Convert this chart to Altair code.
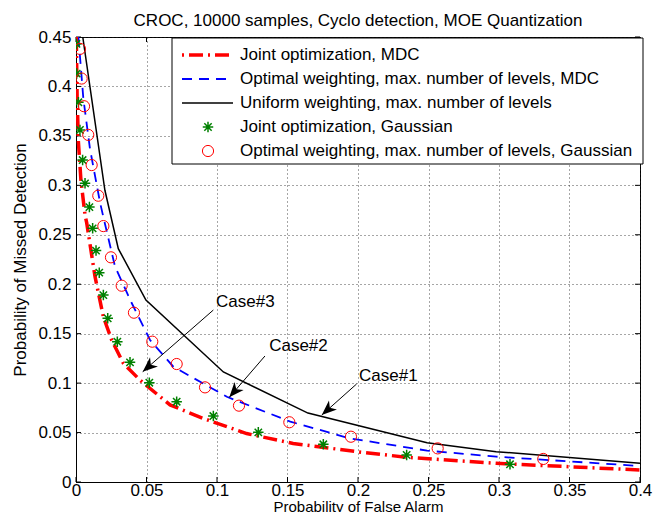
import math
import altair as alt
import pandas as pd

# ---------------- data ----------------
joint_mdc_fa  = [0.0002, 0.0008, 0.0017, 0.0035, 0.0064, 0.0076, 0.0135, 0.0194, 0.0253, 0.0336,
                 0.0454, 0.0667, 0.090, 0.121, 0.154, 0.199, 0.2345, 0.298, 0.4]
joint_mdc_pmd = [0.45, 0.39, 0.344, 0.305, 0.27, 0.262, 0.2076, 0.167, 0.1436, 0.12,
                 0.103, 0.078, 0.0644, 0.049, 0.039, 0.0307, 0.025, 0.0189, 0.0121]

opt_mdc_fa  = [0.0017, 0.0052, 0.0099, 0.017, 0.0194, 0.0277, 0.0395, 0.0525, 0.069, 0.107,
               0.152, 0.194, 0.249, 0.298, 0.4]
opt_mdc_pmd = [0.45, 0.388, 0.337, 0.283, 0.268, 0.2177, 0.181, 0.1436, 0.1166, 0.0862,
               0.061, 0.0442, 0.0317, 0.0256, 0.0162]

unif_fa  = [0.0048, 0.0205, 0.030, 0.0496, 0.1045, 0.1645, 0.249, 0.298, 0.4]
unif_pmd = [0.45, 0.295, 0.236, 0.184, 0.1113, 0.0697, 0.0397, 0.0307, 0.0189]

joint_gauss_fa  = [0.0003, 0.0005, 0.0017, 0.0028, 0.0047, 0.0064, 0.0095, 0.0118, 0.0142, 0.0165,
                   0.0194, 0.0225, 0.0293, 0.0383, 0.052, 0.0714, 0.0974, 0.1293, 0.1754, 0.2345, 0.3078]
joint_gauss_pmd = [0.443, 0.413, 0.384, 0.356, 0.3256, 0.302, 0.278, 0.2565, 0.234, 0.2117,
                   0.189, 0.1655, 0.1419, 0.121, 0.1004, 0.0812, 0.0667, 0.0502, 0.0381, 0.0273, 0.0179]

opt_gauss_fa  = [0.0028, 0.004, 0.0057, 0.0087, 0.0111, 0.0158, 0.0194, 0.0248, 0.0324, 0.0411,
                 0.0541, 0.0714, 0.0915, 0.1156, 0.1513, 0.195, 0.2565, 0.3314]
opt_gauss_pmd = [0.438, 0.408, 0.380, 0.351, 0.3205, 0.2895, 0.2588, 0.2272, 0.1985, 0.1712,
                 0.1419, 0.1193, 0.0957, 0.0772, 0.0604, 0.0458, 0.034, 0.0233]

legend_labels = ["Joint optimization, MDC",
                 "Optimal weighting, max. number of levels, MDC",
                 "Uniform weighting, max. number of levels",
                 "Joint optimization, Gaussian",
                 "Optimal weighting, max. number of levels, Gaussian"]

case_labels   = ["Case#1", "Case#2", "Case#3"]
case_text_fa  = [0.2007, 0.137, 0.0993]
case_text_pmd = [0.1075, 0.1375, 0.1823]
case_from_fa  = [0.199, 0.134, 0.0974]
case_from_pmd = [0.0991, 0.1274, 0.1739]
case_tip_fa   = [0.1743, 0.1087, 0.0473]
case_tip_pmd  = [0.0677, 0.0856, 0.1115]

x_ticks = [0, 0.05, 0.1, 0.15, 0.2, 0.25, 0.3, 0.35, 0.4]
y_ticks = [0, 0.05, 0.1, 0.15, 0.2, 0.25, 0.3, 0.35, 0.4, 0.45]

# ---------------- layout ----------------
W, H = 564, 445
X_MAX, Y_MAX = 0.4, 0.45
FONT = "Liberation Sans"
FS = 17

xs = alt.Scale(domain=[0, X_MAX], nice=False, zero=False)
ys = alt.Scale(domain=[0, Y_MAX], nice=False, zero=False)

x_axis = alt.Axis(values=x_ticks, format="~g", title="Probability of False Alarm",
                  grid=True, ticks=False, labelPadding=0, labelFlush=False,
                  titleY=29, titleBaseline="alphabetic", titleFontSize=15)
y_axis = alt.Axis(values=y_ticks, format="~g", title="Probability of Missed Detection",
                  grid=True, ticks=False, labelPadding=5, labelFlush=False,
                  titleX=-51, titleBaseline="alphabetic")

def X(field="fa"):
    return alt.X(f"{field}:Q", scale=xs, axis=x_axis)

def Y(field="pmd"):
    return alt.Y(f"{field}:Q", scale=ys, axis=y_axis)

def df(fa, pmd):
    return pd.DataFrame({"fa": fa, "pmd": pmd})

# inward ticks
xt = pd.DataFrame({"fa": x_ticks})
yt = pd.DataFrame({"pmd": y_ticks})
tick_style = dict(color="black", strokeWidth=1)
ticks = [
    alt.Chart(xt).mark_rule(**tick_style).encode(x=X(), y=alt.value(H), y2=alt.value(H - 5)),
    alt.Chart(xt).mark_rule(**tick_style).encode(x=X(), y=alt.value(0), y2=alt.value(5)),
    alt.Chart(yt).mark_rule(**tick_style).encode(y=Y(), x=alt.value(0), x2=alt.value(5)),
    alt.Chart(yt).mark_rule(**tick_style).encode(y=Y(), x=alt.value(W), x2=alt.value(W - 5)),
]

unif = alt.Chart(df(unif_fa, unif_pmd)).mark_line(
    color="black", strokeWidth=1.5, clip=True).encode(x=X(), y=Y(), order="fa:Q")
opt_mdc = alt.Chart(df(opt_mdc_fa, opt_mdc_pmd)).mark_line(
    color="#0000ff", strokeWidth=1.8, strokeDash=[10, 7], clip=True).encode(x=X(), y=Y(), order="fa:Q")
joint_mdc = alt.Chart(df(joint_mdc_fa, joint_mdc_pmd)).mark_line(
    color="#ff0000", strokeWidth=3.5, strokeDash=[14, 5, 2, 5], clip=True).encode(x=X(), y=Y(), order="fa:Q")

STAR = "M-1,0L1,0M0,-1L0,1M-0.7,-0.7L0.7,0.7M-0.7,0.7L0.7,-0.7"
stars = alt.Chart(df(joint_gauss_fa, joint_gauss_pmd)).mark_point(
    shape=STAR, filled=False, color="#008000", size=110, strokeWidth=1.5, opacity=1, clip=True
).encode(x=X(), y=Y())
circles = alt.Chart(df(opt_gauss_fa, opt_gauss_pmd)).mark_point(
    shape="circle", filled=False, color="#ff0000", size=125, strokeWidth=1, opacity=1, clip=True
).encode(x=X(), y=Y())

# annotations
sx, sy = W / X_MAX, H / Y_MAX
angles = [math.degrees(math.atan2(-(tp - fp) * sy, (tf - ff) * sx)) % 360
          for ff, fp, tf, tp in zip(case_from_fa, case_from_pmd, case_tip_fa, case_tip_pmd)]
ann = pd.DataFrame({"label": case_labels, "fa": case_text_fa, "pmd": case_text_pmd,
                    "ffa": case_from_fa, "fpmd": case_from_pmd,
                    "hfa": case_tip_fa, "hpmd": case_tip_pmd, "angle": angles})
ARROW = "M0,0L-1,-0.4L-0.72,0L-1,0.4Z"
ann_lines = alt.Chart(ann).mark_rule(color="black", strokeWidth=1).encode(
    x=X("ffa"), y=Y("fpmd"), x2="hfa:Q", y2="hpmd:Q")
ann_heads = alt.Chart(ann).mark_point(shape=ARROW, filled=True, color="black", size=900, opacity=1).encode(
    x=X("hfa"), y=Y("hpmd"), angle=alt.Angle("angle:Q", scale=None))
ann_text = alt.Chart(ann).mark_text(align="left", baseline="middle", font=FONT, fontSize=FS,
                                    color="black").encode(x=X("fa"), y=Y("pmd"), text="label:N")

# legend (drawn manually, MATLAB style box)
LX0, LX1, LY0, LY1 = 96, 567, 1, 127
SYM0, SYM1, SYMC, TXT = 106, 157, 132, 164
row_y = [18 + 24 * i for i in range(5)]
leg_box = alt.Chart(pd.DataFrame({"d": [0]})).mark_rect(
    fill="white", stroke="black", strokeWidth=1).encode(
    x=alt.value(LX0), x2=alt.value(LX1), y=alt.value(LY0), y2=alt.value(LY1))
leg_df = pd.DataFrame({"label": legend_labels, "ypx": row_y})
leg_text = alt.Chart(leg_df).mark_text(align="left", baseline="middle", font=FONT, fontSize=FS,
                                       color="black").encode(
    x=alt.value(TXT), y=alt.Y("ypx:Q", scale=None), text="label:N")
one = lambda i: pd.DataFrame({"ypx": [row_y[i]]})
leg_joint = alt.Chart(one(0)).mark_rule(color="#ff0000", strokeWidth=3.5, strokeDash=[2, 5, 14, 5]).encode(
    x=alt.value(SYM0), x2=alt.value(SYM1), y=alt.Y("ypx:Q", scale=None))
leg_opt = alt.Chart(one(1)).mark_rule(color="#0000ff", strokeWidth=1.8, strokeDash=[10, 7]).encode(
    x=alt.value(SYM0), x2=alt.value(SYM1), y=alt.Y("ypx:Q", scale=None))
leg_unif = alt.Chart(one(2)).mark_rule(color="black", strokeWidth=1.5).encode(
    x=alt.value(SYM0), x2=alt.value(SYM1), y=alt.Y("ypx:Q", scale=None))
leg_star = alt.Chart(one(3)).mark_point(shape=STAR, filled=False, color="#008000", size=110,
                                        strokeWidth=1.5, opacity=1).encode(
    x=alt.value(SYMC), y=alt.Y("ypx:Q", scale=None))
leg_circ = alt.Chart(one(4)).mark_point(shape="circle", filled=False, color="#ff0000", size=125,
                                        strokeWidth=1, opacity=1).encode(
    x=alt.value(SYMC), y=alt.Y("ypx:Q", scale=None))

chart = alt.layer(
    *ticks, unif, opt_mdc, joint_mdc, stars, circles,
    ann_lines, ann_heads, ann_text,
    leg_box, leg_joint, leg_opt, leg_unif, leg_star, leg_circ, leg_text,
).properties(
    width=W, height=H,
    padding={"left": 68, "top": 29, "right": 15, "bottom": 30},
    autosize=alt.AutoSizeParams(type="none"),
    title=alt.Title("CROC, 10000 samples, Cyclo detection, MOE Quantization",
                    font=FONT, fontSize=FS, fontWeight="normal", color="black",
                    anchor="middle", frame="group", offset=-1.5),
).configure_view(
    stroke="black", strokeWidth=1
).configure_axis(
    domainColor="black", domainWidth=1,
    gridColor="#222222", gridDash=[1, 3], gridOpacity=0.8, gridWidth=1,
    labelFont=FONT, labelFontSize=FS, labelColor="black",
    titleFont=FONT, titleFontSize=FS, titleFontWeight="normal", titleColor="black",
)

chart.save("out.html", embed_options={"renderer": "svg", "actions": False})
